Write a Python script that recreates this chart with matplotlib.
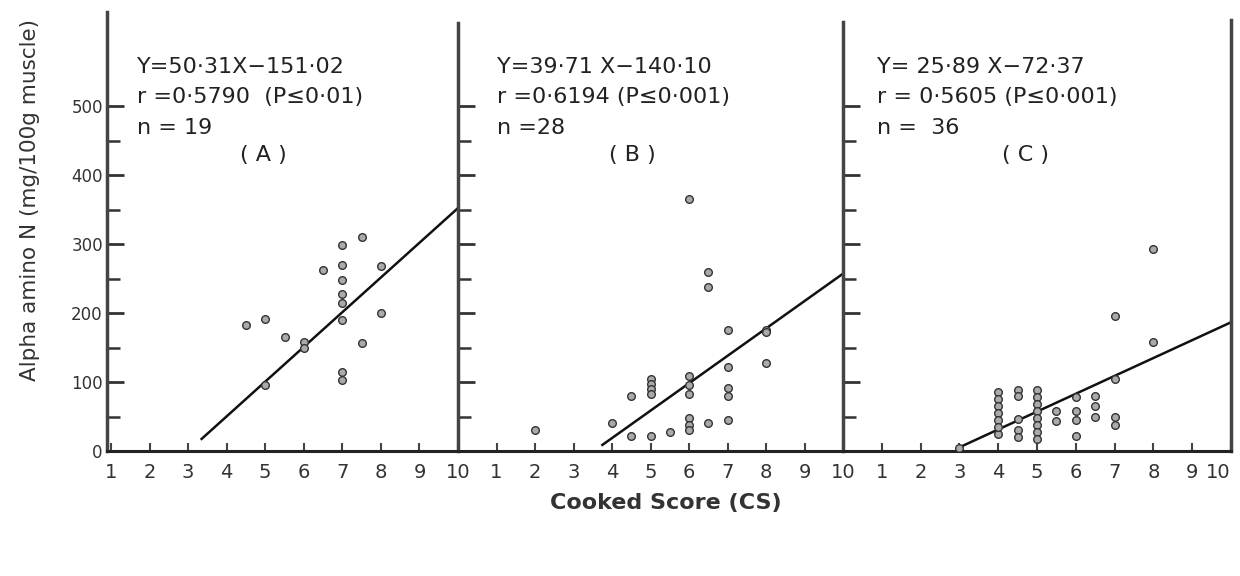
import numpy as np
import matplotlib.pyplot as plt
from matplotlib.ticker import FixedLocator

# scores / alpha amino N
a_x = [4.5, 5, 5.5, 6, 6, 5, 6.5, 7, 7, 7, 7, 7, 7, 7, 7, 7.5, 7.5, 8, 8]
a_y = [182, 192, 165, 158, 150, 95, 262, 298, 270, 248, 228, 215, 190, 115, 103, 310, 157, 268, 200]

b_x = [2, 4, 4.5, 4.5, 5, 5, 5, 5, 5, 5.5, 6, 6, 6, 6, 6, 6, 6,
       6.5, 6.5, 6.5, 7, 7, 7, 7, 7, 8, 8, 8]
b_y = [30, 40, 22, 80, 22, 105, 97, 90, 83, 27, 365, 108, 95, 82, 48, 38, 30,
       260, 237, 40, 175, 122, 92, 80, 45, 175, 172, 128]

c_x = [3, 4, 4, 4, 4, 4, 4, 4, 4.5, 4.5, 4.5, 4.5, 4.5,
       5, 5, 5, 5, 5, 5, 5, 5, 5.5, 5.5, 6, 6, 6, 6,
       6.5, 6.5, 6.5, 7, 7, 7, 7, 8, 8]
c_y = [5, 25, 85, 75, 65, 55, 45, 35, 88, 80, 47, 30, 20,
       88, 78, 68, 58, 48, 38, 28, 18, 58, 43, 78, 58, 45, 22,
       80, 65, 50, 50, 38, 105, 195, 158, 293]

# regression lines (slope, intercept) and the x where each drawn line starts
slopes = [50.31, 39.71, 25.89]
intercepts = [-151.02, -140.10, -72.37]
line_start = [3.35, 3.75, 3.0]

eq_text = ["Y=50·31X−151·02", "Y=39·71 X−140·10", "Y= 25·89 X−72·37"]
r_text = ["r =0·5790  (P≤0·01)", "r =0·6194 (P≤0·001)", "r = 0·5605 (P≤0·001)"]
n_text = ["n = 19", "n =28", "n =  36"]
tags = ["( A )", "( B )", "( C )"]

W, H = 1240, 576
fig = plt.figure(figsize=(W / 100, H / 100), dpi=100)

def fx(px):
    return px / W

def fy(py):
    return 1 - py / H

y0_px = 451
px_per_unit = 0.69
ytop = 640
bottom = fy(y0_px)
height = ytop * px_per_unit / H

panels = [(107, 458, 0.896), (458, 843, 0.0), (843, 1231, 0.0)]
spine_tops = [636, 620, 622]
data = [(a_x, a_y), (b_x, b_y), (c_x, c_y)]
axes = []

for i, (l, r, xmin) in enumerate(panels):
    ax = fig.add_axes([fx(l), bottom, fx(r - l), height])
    ax.patch.set_alpha(0)
    ax.set_xlim(xmin, 10)
    ax.set_ylim(0, ytop)
    for s in ['top', 'right']:
        ax.spines[s].set_visible(False)
    ax.spines['left'].set_bounds(0, spine_tops[i])
    ax.spines['left'].set_linewidth(2.5)
    ax.spines['left'].set_color('#444444')
    ax.spines['bottom'].set_linewidth(2.2)
    ax.spines['bottom'].set_color('#222222')

    ax.set_yticks(np.arange(0, 501, 100))
    ax.yaxis.set_minor_locator(FixedLocator(np.arange(50, 500, 100)))
    ax.set_xticks(np.arange(1, 11))
    ax.set_xticklabels([str(k) for k in range(1, 11)])
    ax.tick_params(axis='y', which='major', direction='in', length=12, width=2, color='#333333',
                   labelsize=12, pad=3, labelleft=(i == 0), labelcolor='#333333')
    ax.tick_params(axis='y', which='minor', direction='in', length=9, width=1.8, color='#333333')
    ax.tick_params(axis='x', direction='in', length=6, width=1.5, color='#444444',
                   labelsize=14, pad=9, labelcolor='#333333')

    xs, ys = data[i]
    ax.plot(xs, ys, 'o', ms=5.5, mfc='#aaaaaa', mec='#333333', mew=1.0, zorder=3)

    lx = np.array([line_start[i], 10])
    ax.plot(lx, slopes[i] * lx + intercepts[i], color='#111111', lw=1.8, zorder=2,
            clip_on=False)
    axes.append(ax)

# right hand border of panel C
axes[2].spines['right'].set_visible(True)
axes[2].spines['right'].set_bounds(0, 625)
axes[2].spines['right'].set_linewidth(2.5)
axes[2].spines['right'].set_color('#444444')
axes[2].get_xticklabels()[-1].set_horizontalalignment('right')

# annotation blocks
text_left = [137, 497, 877]
tag_x = [263, 632, 1025]
for i in range(3):
    fig.text(fx(text_left[i]), fy(67), eq_text[i], fontsize=16, va='center', ha='left', color='#222222')
    fig.text(fx(text_left[i]), fy(97), r_text[i], fontsize=16, va='center', ha='left', color='#222222')
    fig.text(fx(text_left[i]), fy(128), n_text[i], fontsize=16, va='center', ha='left', color='#222222')
    fig.text(fx(tag_x[i]), fy(155), tags[i], fontsize=16, va='center', ha='center', color='#222222')

fig.text(fx(30), fy(200), "Alpha amino N (mg/100g muscle)", rotation=90, fontsize=15.5,
         va='center', ha='center', color='#333333')
fig.text(fx(666), fy(503), "Cooked Score (CS)", fontsize=16, fontweight='bold',
         va='center', ha='center', color='#333333')

fig.savefig('out.png', dpi=100)
